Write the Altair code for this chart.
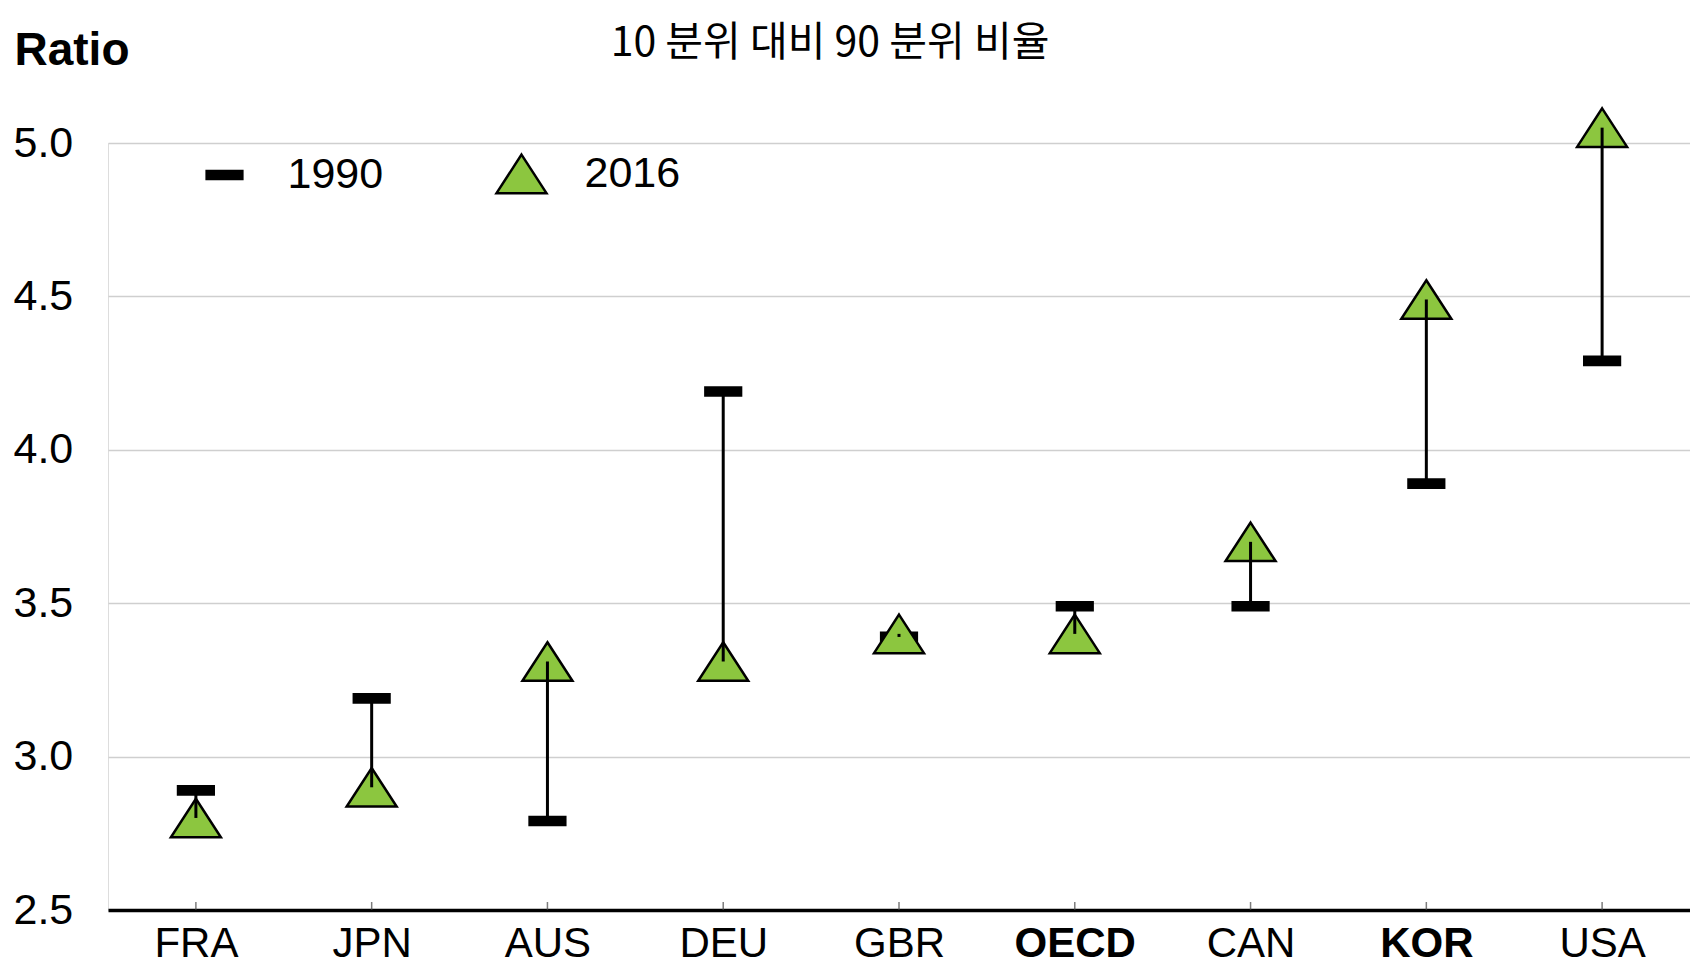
import altair as alt
import pandas as pd

# ---- data ----
countries = ["FRA", "JPN", "AUS", "DEU", "GBR", "OECD", "CAN", "KOR", "USA"]
ratio_1990 = [2.89, 3.19, 2.79, 4.19, 3.39, 3.49, 3.49, 3.89, 4.29]
ratio_2016 = [2.80, 2.90, 3.31, 3.31, 3.40, 3.40, 3.70, 4.49, 5.05]
years = ["1990", "2016"]
bold_labels = ["OECD", "KOR"]
y_ticks = [2.5, 3.0, 3.5, 4.0, 4.5, 5.0]
title_text = "10 분위 대비 90 분위 비율"
y_title = "Ratio"

wide = pd.DataFrame({"country": countries, "r1990": ratio_1990, "r2016": ratio_2016})
long = pd.DataFrame({
    "country": countries * 2,
    "year": [years[0]] * len(countries) + [years[1]] * len(countries),
    "value": ratio_1990 + ratio_2016,
})

GREEN = "#8CC63F"
BAR_PATH = "M-0.7,-0.16L0.7,-0.16L0.7,0.16L-0.7,0.16Z"
TRI_PATH = "M0,-0.755L0.98,0.755L-0.98,0.755Z"
FONT = "Liberation Sans"

bold_test = " || ".join(f"datum.value == '{c}'" for c in bold_labels)

x_axis = alt.Axis(
    title=None, labelAngle=0, labelFont=FONT, labelFontSize=42, labelColor="black",
    labelFontWeight={"condition": {"test": bold_test, "value": "bold"}, "value": "normal"},
    ticks=False, domainColor="black", domainWidth=3.5, labelPadding=13, grid=False,
)
x_enc = alt.X("country:N", sort=countries, scale=alt.Scale(type="point", padding=0.5), axis=x_axis)
y_scale = alt.Scale(domain=[2.5, 5.0], nice=False, zero=False)
y_axis = alt.Axis(
    values=y_ticks, format=".1f", title=y_title, titleAngle=0, titleFont=FONT,
    titleFontSize=46, titleFontWeight="bold", titleColor="black", titleAlign="left",
    titleBaseline="alphabetic", titleX=-94, titleY=-79,
    labelAlign="left", labelPadding=95, labelFont=FONT, labelFontSize=43, labelColor="black",
    ticks=False, tickSize=0, domain=False, grid=True, gridColor="#CFCFCF", gridWidth=1.5,
)

legend = alt.Legend(
    orient="none", legendX=89.5, legendY=3.5, direction="horizontal", title=None,
    symbolSize=2601, symbolStrokeColor="black", symbolStrokeWidth=2.5, symbolOpacity=1,
    labelFont=FONT, labelFontSize=43, labelColor="black", labelOffset=36,
    columnPadding=108, padding=0,
)

ticks = alt.Chart(wide).mark_tick(
    orient="vertical", size=8, thickness=1.5, color="#444444", yOffset=-4
).encode(x=x_enc, y=alt.datum(2.5, scale=y_scale, axis=y_axis))

points = alt.Chart(long).mark_point(
    filled=True, size=2601, strokeWidth=2.5, opacity=1, fillOpacity=1,
    strokeJoin="miter",
).encode(
    x=x_enc,
    y=alt.Y("value:Q", scale=y_scale, axis=y_axis),
    shape=alt.Shape("year:N", scale=alt.Scale(domain=years, range=[BAR_PATH, TRI_PATH]), legend=legend),
    fill=alt.Fill("year:N", scale=alt.Scale(domain=years, range=["black", GREEN]), legend=legend),
    stroke=alt.Stroke("year:N", scale=alt.Scale(domain=years, range=["black", "black"]), legend=legend),
)

rules = alt.Chart(wide).mark_rule(color="black", strokeWidth=3).encode(
    x=x_enc,
    y=alt.Y("r1990:Q", scale=y_scale, axis=y_axis),
    y2="r2016:Q",
)

chart = alt.layer(ticks, points, rules).properties(
    width=1582, height=767,
    autosize=alt.AutoSizeParams(type="none"),
    padding={"left": 100, "top": 135, "right": 0, "bottom": 58},
    title=alt.Title(title_text, font="Noto Sans CJK KR", fontSize=41, fontWeight="normal",
                    color="black", anchor="middle", dx=-69, dy=42),
).configure_view(stroke=None).configure(background="white")

chart.save("out.html", embed_options={"renderer": "svg", "actions": False})
